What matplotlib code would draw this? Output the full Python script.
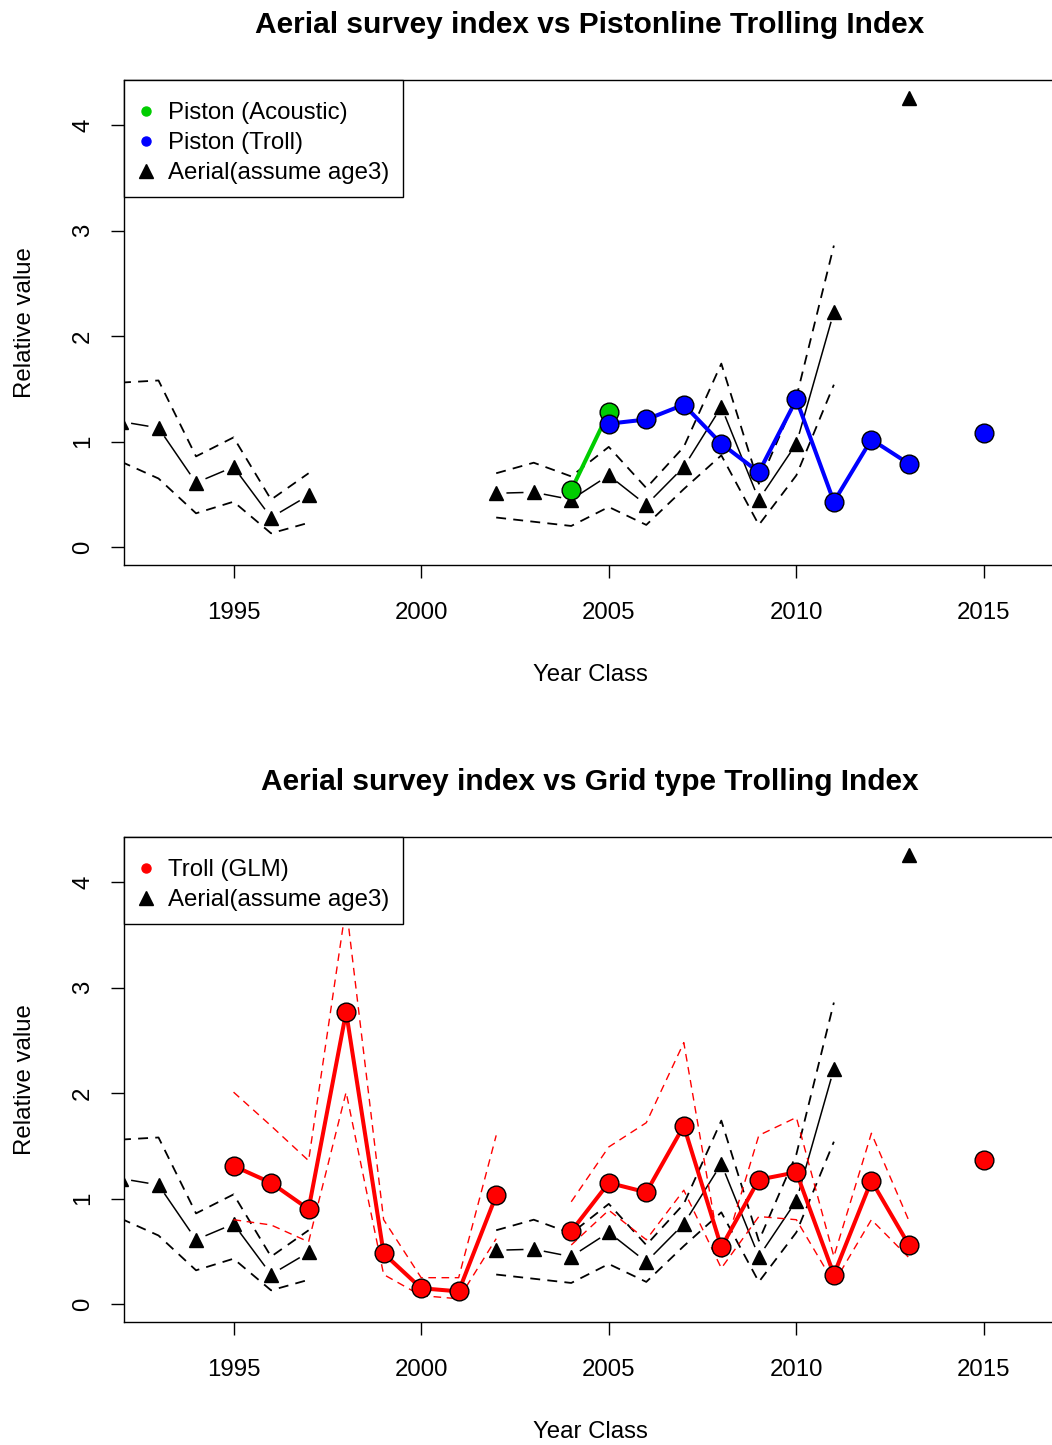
import numpy as np
import matplotlib.pyplot as plt
from matplotlib.lines import Line2D

plt.rcParams['font.family'] = ['Liberation Sans', 'DejaVu Sans']

nan = np.nan

# Aerial survey index (assumed age 3) with upper / lower bounds
aerial_years = np.arange(1992, 2014)
aerial_mid = np.array([1.19, 1.13, 0.61, 0.76, 0.28, 0.49, nan, nan, nan, nan, 0.51,
                       0.52, 0.45, 0.68, 0.40, 0.76, 1.33, 0.45, 0.98, 2.23, nan, 4.26])
aerial_hi = np.array([1.56, 1.58, 0.86, 1.04, 0.45, 0.70, nan, nan, nan, nan, 0.70,
                      0.80, 0.67, 0.95, 0.56, 0.95, 1.74, 0.60, 1.42, 2.86, nan, nan])
aerial_lo = np.array([0.81, 0.65, 0.32, 0.43, 0.13, 0.23, nan, nan, nan, nan, 0.28,
                      0.24, 0.20, 0.38, 0.21, 0.55, 0.87, 0.21, 0.68, 1.54, nan, nan])

# Pistonline indices
acoustic_years = np.array([2004, 2005])
acoustic_vals = np.array([0.54, 1.28])
troll_years = np.arange(2005, 2016)
troll_vals = np.array([1.17, 1.21, 1.35, 0.98, 0.71, 1.40, 0.43, 1.02, 0.79, nan, 1.08])

# Grid type trolling index (GLM) with bounds
glm_years = np.arange(1995, 2016)
glm_vals = np.array([1.31, 1.15, 0.90, 2.77, 0.48, 0.15, 0.12, 1.03, nan, 0.69, 1.15,
                     1.06, 1.69, 0.54, 1.18, 1.25, 0.28, 1.17, 0.56, nan, 1.37])
glm_hi = np.array([2.01, 1.69, 1.36, 3.78, 0.80, 0.25, 0.25, 1.60, nan, 0.97, 1.49,
                   1.72, 2.48, 0.42, 1.60, 1.77, 0.45, 1.62, 0.79, nan, nan])
glm_lo = np.array([0.80, 0.75, 0.59, 2.01, 0.28, 0.08, 0.05, 0.62, nan, 0.56, 0.89,
                   0.61, 1.08, 0.34, 0.83, 0.80, 0.20, 0.80, 0.44, nan, nan])

x_ticks = [1995, 2000, 2005, 2010, 2015]
y_ticks = [0, 1, 2, 3, 4]

W, H = 1052, 1445
fig = plt.figure(figsize=(W / 100, H / 100), dpi=100)

TICK_FS = 17.3
DASH = (5.5, 4)


def setup(ax, title):
    ax.set_xlim(1992.08, 2016.92)
    ymax = np.nanmax(aerial_mid)
    ax.set_ylim(-0.04 * ymax, 1.04 * ymax)
    ax.set_xticks(x_ticks)
    ax.set_yticks(y_ticks)
    ax.tick_params(axis='both', direction='out', length=9.5, width=1.0,
                   labelsize=TICK_FS, colors='black')
    ax.tick_params(axis='x', pad=17)
    ax.tick_params(axis='y', pad=12)
    for lab in ax.get_yticklabels():
        lab.set_rotation(90)
        lab.set_va('center')
    for s in ax.spines.values():
        s.set_linewidth(1.0)
    ax.set_xlabel('Year Class', fontsize=TICK_FS, labelpad=29)
    ax.set_ylabel('Relative value', fontsize=TICK_FS, labelpad=26)
    ax.set_title(title, fontsize=21.5, fontweight='bold', pad=34)


def gapped_line(ax, x, y, gap_px, **kw):
    # type="b" style: segments stop short of each point
    pts = ax.transData.transform(np.column_stack([x, y]))
    inv = ax.transData.inverted()
    for i in range(len(x) - 1):
        if np.isnan(y[i]) or np.isnan(y[i + 1]):
            continue
        p0, p1 = pts[i], pts[i + 1]
        d = p1 - p0
        L = np.hypot(d[0], d[1])
        if L <= 2 * gap_px:
            continue
        u = d / L
        seg = inv.transform(np.array([p0 + u * gap_px, p1 - u * gap_px]))
        ax.plot(seg[:, 0], seg[:, 1], color='black', **kw)


def draw_aerial(ax):
    ax.plot(aerial_years, aerial_hi, color='black', lw=1.3, ls='--', dashes=DASH)
    ax.plot(aerial_years, aerial_lo, color='black', lw=1.3, ls='--', dashes=DASH)
    gapped_line(ax, aerial_years, aerial_mid, 11, lw=1.1)
    ax.plot(aerial_years, aerial_mid, ls='none', marker='^', ms=10.5,
            color='black', mec='black')


def legend(ax, handles, labels):
    # blank tiny title gives the extra space above the first row
    leg = ax.legend(handles, labels, loc='upper left', bbox_to_anchor=(0, 1),
                    borderaxespad=0, frameon=True, fancybox=False, edgecolor='black',
                    framealpha=1, fontsize=TICK_FS, handlelength=0.75,
                    handletextpad=0.55, borderpad=0.55, labelspacing=0.33,
                    title=' ', title_fontsize=1)
    leg.get_frame().set_linewidth(1.0)


pos_w = (1056 - 124) / W
ax1 = fig.add_axes([124 / W, (H - 565) / H, pos_w, 485 / H])
ax2 = fig.add_axes([124 / W, (H - 1322) / H, pos_w, 485 / H])

# Top panel: aerial vs pistonline trolling
setup(ax1, 'Aerial survey index vs Pistonline Trolling Index')
draw_aerial(ax1)
ax1.plot(acoustic_years, acoustic_vals, color='#00CD00', lw=2.9, marker='o', ms=13.5,
         mfc='#00CD00', mec='black', mew=1.0)
ax1.plot(troll_years, troll_vals, color='#0000FF', lw=2.9, marker='o', ms=13.5,
         mfc='#0000FF', mec='black', mew=1.0)
legend(ax1,
       [Line2D([], [], ls='none', marker='o', ms=6.5, color='#00CD00'),
        Line2D([], [], ls='none', marker='o', ms=6.5, color='#0000FF'),
        Line2D([], [], ls='none', marker='^', ms=9.5, color='black')],
       ['Piston (Acoustic)', 'Piston (Troll)', 'Aerial(assume age3)'])

# Bottom panel: aerial vs grid type trolling
setup(ax2, 'Aerial survey index vs Grid type Trolling Index')
draw_aerial(ax2)
ax2.plot(glm_years, glm_hi, color='#FF0000', lw=1.0, ls='--', dashes=DASH)
ax2.plot(glm_years, glm_lo, color='#FF0000', lw=1.0, ls='--', dashes=DASH)
ax2.plot(glm_years, glm_vals, color='#FF0000', lw=2.9, marker='o', ms=13.5,
         mfc='#FF0000', mec='black', mew=1.0)
legend(ax2,
       [Line2D([], [], ls='none', marker='o', ms=6.5, color='#FF0000'),
        Line2D([], [], ls='none', marker='^', ms=9.5, color='black')],
       ['Troll (GLM)', 'Aerial(assume age3)'])

fig.savefig('out.png', dpi=100)
